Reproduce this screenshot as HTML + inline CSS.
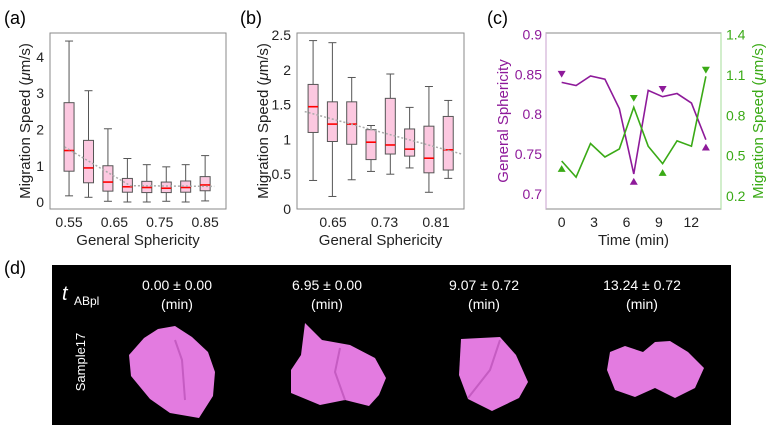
<!DOCTYPE html>
<html><head><meta charset="utf-8">
<style>
html,body{margin:0;padding:0;background:#fff;}
svg{display:block;font-family:"Liberation Sans",sans-serif;}
</style></head>
<body>
<svg id="fig" width="774" height="434" viewBox="0 0 774 434" xmlns="http://www.w3.org/2000/svg">
  <text x="4" y="24" font-size="18">(a)</text>
  <text x="240" y="24" font-size="18">(b)</text>
  <text x="487" y="24" font-size="18">(c)</text>
  <text x="4" y="274" font-size="18">(d)</text>
  <g id="pa"></g>
  <g id="pb"></g>
  <g id="pc"></g>

  <g>
    <rect x="52" y="265" width="679" height="160" fill="#000"/>
    <text x="62" y="300" font-size="20" font-style="italic" fill="#fff">t</text>
    <text x="74" y="305" font-size="12" fill="#fff">ABpl</text>
    <text x="177" y="290" font-size="14" fill="#fff" text-anchor="middle">0.00 ± 0.00</text>
    <text x="177" y="309" font-size="14" fill="#fff" text-anchor="middle">(min)</text>
    <text x="327" y="290" font-size="14" fill="#fff" text-anchor="middle">6.95 ± 0.00</text>
    <text x="327" y="309" font-size="14" fill="#fff" text-anchor="middle">(min)</text>
    <text x="484" y="290" font-size="14" fill="#fff" text-anchor="middle">9.07 ± 0.72</text>
    <text x="484" y="309" font-size="14" fill="#fff" text-anchor="middle">(min)</text>
    <text x="642" y="290" font-size="14" fill="#fff" text-anchor="middle">13.24 ± 0.72</text>
    <text x="642" y="309" font-size="14" fill="#fff" text-anchor="middle">(min)</text>
    <text transform="translate(85,362) rotate(-90)" font-size="13" fill="#fff" text-anchor="middle">Sample17</text>
    <path d="M158,329 L175,326 L192,337 L208,352 L215,372 L213,396 L199,418 L170,413 L150,399 L131,376 L129,355 L144,338 Z" fill="#e37be0"/>
    <path d="M175,340 L182,360 L185,400" stroke="#c55cc2" stroke-width="2" fill="none"/>
    <path d="M305,323 L322,340 L350,345 L375,358 L386,378 L379,395 L369,406 L345,400 L320,405 L291,393 L291,370 L301,355 Z" fill="#e37be0"/>
    <path d="M340,348 L335,372 L345,400" stroke="#c55cc2" stroke-width="2" fill="none"/>
    <path d="M461,339 L500,337 L516,355 L528,382 L519,398 L492,411 L468,399 L459,375 Z" fill="#e37be0"/>
    <path d="M500,340 L490,370 L468,398" stroke="#c55cc2" stroke-width="2" fill="none"/>
    <path d="M610,352 L625,346 L643,352 L655,342 L670,341 L688,352 L704,368 L695,388 L675,398 L655,388 L635,397 L615,390 L607,370 Z" fill="#e37be0"/>
  </g>
</svg>
<script>
// ---------- Panel (a) data ----------
const aCats = [0.55,0.5929,0.6357,0.6786,0.7214,0.7643,0.8071,0.85];
const aMin = [0.17,0.13,0.02,0.00,0.00,0.02,0.00,0.03];
const aQ1 = [0.85,0.53,0.30,0.27,0.26,0.26,0.27,0.31];
const aMed = [1.42,0.94,0.55,0.42,0.40,0.38,0.40,0.47];
const aQ3 = [2.74,1.70,1.00,0.65,0.57,0.55,0.58,0.70];
const aMax = [4.44,3.07,2.02,1.20,1.03,0.97,1.03,1.28];
const aTicksX = [0.55,0.65,0.75,0.85];
const aTicksY = [0,1,2,3,4];
const aTrendX = [0.54,0.685,0.87];
const aTrendY = [1.52,0.45,0.43];
// ---------- Panel (b) data ----------
const bCats = [0.619,0.649,0.679,0.709,0.739,0.769,0.799,0.829];
const bMin = [0.41,0.18,0.42,0.54,0.50,0.59,0.24,0.44];
const bQ1 = [1.10,0.97,0.93,0.71,0.79,0.76,0.52,0.56];
const bMed = [1.47,1.22,1.22,0.96,0.92,0.86,0.73,0.85];
const bQ3 = [1.79,1.54,1.54,1.14,1.59,1.15,1.19,1.33];
const bMax = [2.42,2.39,1.89,1.20,1.94,1.46,1.76,1.56];
const bTicksX = [0.65,0.73,0.81];
const bTicksY = [0,0.5,1,1.5,2,2.5];
const bTrendX = [0.606,0.850];
const bTrendY = [1.40,0.79];
// ---------- Panel (c) data ----------
const cTimes = [0,1.335,2.67,4.005,5.34,6.675,8.01,9.345,10.68,12.015,13.35];
const cSph = [0.840,0.836,0.848,0.844,0.807,0.725,0.830,0.822,0.826,0.814,0.768];
const cSpd = [0.46,0.34,0.59,0.49,0.55,0.86,0.57,0.44,0.61,0.57,1.09];
const cSphDownT = [0,9.345]; const cSphDownV = [0.851,0.832];
const cSphUpT = [6.675,13.35]; const cSphUpV = [0.715,0.758];
const cSpdDownT = [6.675,13.35]; const cSpdDownV = [0.93,1.14];
const cSpdUpT = [0,9.345]; const cSpdUpV = [0.40,0.37];
const cTicksX = [0,3,6,9,12];
const cTicksYL = [0.7,0.75,0.8,0.85,0.9];
const cTicksYR = [0.2,0.5,0.8,1.1,1.4];

const NS='http://www.w3.org/2000/svg';
function mk(parent,tag,attrs,txt){const e=document.createElementNS(NS,tag);for(const k in attrs)e.setAttribute(k,attrs[k]);if(txt!==undefined)e.textContent=txt;parent.appendChild(e);return e;}
function lin(d0,d1,r0,r1){return v=>r0+(v-d0)/(d1-d0)*(r1-r0);}

function boxPanel(g,o){
  const X=lin(o.xd[0],o.xd[1],o.L,o.R), Y=lin(o.yd[0],o.yd[1],o.B,o.T);
  let ax=mk(g,'rect',{x:o.L,y:o.T,width:o.R-o.L,height:o.B-o.T,fill:'none',stroke:'#8a8a8a','stroke-width':1});
  
  
  o.ty.forEach(v=>{
    let t=mk(g,'text',{x:o.L-6,y:Y(v)+5,'font-size':14,'text-anchor':'end',fill:'#222'},String(v));
    
    
  });
  o.tx.forEach(v=>{
    let t=mk(g,'text',{x:X(v),y:o.B+18,'font-size':14,'text-anchor':'middle',fill:'#222'},v.toFixed(2));
    
    
  });
  const w=10;
  o.c.forEach((c,i)=>{
    const x=X(c);
    let wl=mk(g,'line',{x1:x,x2:x,y1:Y(o.mx[i]),y2:Y(o.mn[i]),stroke:'#555','stroke-width':1});
    
    
    [o.mx[i],o.mn[i]].forEach(v=>{
      let cap=mk(g,'line',{x1:x-4,x2:x+4,y1:Y(v),y2:Y(v),stroke:'#555','stroke-width':1});
      
      
    });
    let b=mk(g,'rect',{x:x-w/2,y:Y(o.q3[i]),width:w,height:Y(o.q1[i])-Y(o.q3[i]),fill:'#fcc8e0',stroke:'#555','stroke-width':1});
    
    
    let m=mk(g,'line',{x1:x-w/2,x2:x+w/2,y1:Y(o.md[i]),y2:Y(o.md[i]),stroke:'#f00','stroke-width':1.6});
    
    
  });
  let tp=o.trX.map((v,i)=>X(v)+','+Y(o.trY[i])).join(' ');
  let tr=mk(g,'polyline',{points:tp,fill:'none',stroke:'#aaa','stroke-width':1.5,'stroke-dasharray':'2,2'});
  
  
  let xl=mk(g,'text',{x:(o.L+o.R)/2,y:o.B+36,'font-size':15,'text-anchor':'middle',fill:'#222'},'General Sphericity');
  
  
  let yl=mk(g,'text',{transform:`translate(${o.yl},${(o.T+o.B)/2}) rotate(-90)`,'font-size':15,'text-anchor':'middle',fill:'#222'});
  
  
  mk(yl,'tspan',{},'Migration Speed (');
  mk(yl,'tspan',{'font-style':'italic'},'μ');
  mk(yl,'tspan',{},'m/s)');
}
boxPanel(document.getElementById('pa'),{L:50,R:226,T:33,B:209,xd:[0.508,0.896],yd:[-0.193,4.662],
  c:aCats,mn:aMin,q1:aQ1,md:aMed,q3:aQ3,mx:aMax,tx:aTicksX,ty:aTicksY,trX:aTrendX,trY:aTrendY,yl:30});
boxPanel(document.getElementById('pb'),{L:297,R:464,T:33,B:209,xd:[0.594,0.8535],yd:[0,2.529],
  c:bCats,mn:bMin,q1:bQ1,md:bMed,q3:bQ3,mx:bMax,tx:bTicksX,ty:bTicksY,trX:bTrendX,trY:bTrendY,yl:268});

// Panel (c)
(function(){
  const g=document.getElementById('pc');
  const L=546,R=721,T=33,B=209;
  const X=lin(-1.45,14.75,L,R), YL=lin(0.681,0.902,B,T), YR=lin(0.103,1.412,B,T);
  const P='#8e1a9a', G='#3aaa16';
  let ax=mk(g,'rect',{x:L,y:T,width:R-L,height:B-T,fill:'none',stroke:'#8a8a8a','stroke-width':1});
  
  
  let lax=mk(g,'line',{x1:L,x2:L,y1:T,y2:B,stroke:'#c9a0cf','stroke-width':1});
  
  
  let rax=mk(g,'line',{x1:R,x2:R,y1:T,y2:B,stroke:'#a6dc9a','stroke-width':1});
  
  
  cTicksYL.forEach(v=>{
    let t=mk(g,'text',{x:L-4,y:YL(v)+5,'font-size':14,'text-anchor':'end',fill:P},String(v));
    
    
  });
  cTicksYR.forEach(v=>{
    let t=mk(g,'text',{x:R+5,y:YR(v)+5,'font-size':14,fill:G},String(v));
    
    
  });
  cTicksX.forEach(v=>{
    let t=mk(g,'text',{x:X(v),y:B+18,'font-size':14,'text-anchor':'middle',fill:'#222'},String(v));
    
    
  });
  let l1=mk(g,'polyline',{points:cTimes.map((t,i)=>X(t)+','+YL(cSph[i])).join(' '),fill:'none',stroke:P,'stroke-width':1.6});
  
  
  let l2=mk(g,'polyline',{points:cTimes.map((t,i)=>X(t)+','+YR(cSpd[i])).join(' '),fill:'none',stroke:G,'stroke-width':1.6});
  
  
  function tri(x,y,up,col,name){
    const s=4;
    const pts=up?`${x},${y-s} ${x-s},${y+s*0.7} ${x+s},${y+s*0.7}`:`${x},${y+s} ${x-s},${y-s*0.7} ${x+s},${y-s*0.7}`;
    let p=mk(g,'polygon',{points:pts,fill:col});
    
    
  }
  cSphDownT.forEach((t,i)=>tri(X(t),YL(cSphDownV[i]),false,P,'sphericity-peak-marker'));
  cSphUpT.forEach((t,i)=>tri(X(t),YL(cSphUpV[i]),true,P,'sphericity-trough-marker'));
  cSpdDownT.forEach((t,i)=>tri(X(t),YR(cSpdDownV[i]),false,G,'speed-peak-marker'));
  cSpdUpT.forEach((t,i)=>tri(X(t),YR(cSpdUpV[i]),true,G,'speed-trough-marker'));
  let xl=mk(g,'text',{x:(L+R)/2,y:B+36,'font-size':15,'text-anchor':'middle',fill:'#222'},'Time (min)');
  
  
  let yl=mk(g,'text',{transform:`translate(${508},${(T+B)/2}) rotate(-90)`,'font-size':15,'text-anchor':'middle',fill:P},'General Sphericity');
  
  
  let yr=mk(g,'text',{transform:`translate(${763},${(T+B)/2}) rotate(-90)`,'font-size':15,'text-anchor':'middle',fill:G});
  
  
  mk(yr,'tspan',{},'Migration Speed (');
  mk(yr,'tspan',{'font-style':'italic'},'μ');
  mk(yr,'tspan',{},'m/s)');
})();
</script>
</body></html>
